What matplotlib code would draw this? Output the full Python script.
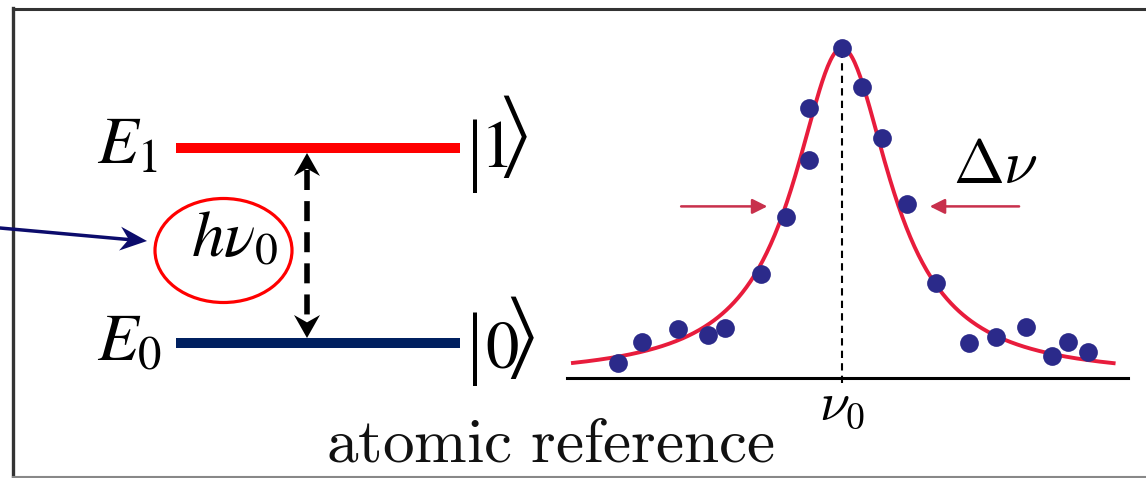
import matplotlib
matplotlib.use('Agg')
import matplotlib.pyplot as plt
import numpy as np
from matplotlib.patches import Ellipse

W, H = 1146, 478

# spectrum: detuning in units of the line width, signal normalised to the peak
detuning = [-1.81, -1.61, -1.32, -1.08, -0.94, -0.65, -0.45, -0.27, -0.27, 0.0,
            0.16, 0.32, 0.52, 0.76, 1.02, 1.24, 1.48, 1.69, 1.82, 1.98]
signal = [0.045, 0.109, 0.148, 0.130, 0.152, 0.315, 0.488, 0.661, 0.818, 1.0,
          0.882, 0.727, 0.527, 0.288, 0.106, 0.124, 0.155, 0.067, 0.109, 0.079]

# lorentzian fit
fit_center = 0.0
fit_fwhm = 0.95
fit_amp = 1.0
fit_range = (-2.17, 2.19)
half_max_level = 0.52

level_labels = [r'$E_1$', r'$E_0$']
ket_digits = ['1', '0']

delim_font = ['STIXSizeOneSym', 'STIXGeneral']


def head(ax, tip, tail, length, width, color):
    # stealth style arrow head in pixel coordinates
    tip = np.array(tip, float)
    d = tip - np.array(tail, float)
    d /= np.hypot(*d)
    n = np.array([-d[1], d[0]])
    back = tip - d * length
    pts = [tip, back + n * width / 2, tip - d * length * 0.68, back - n * width / 2]
    ax.fill(*zip(*pts), color=color, lw=0, zorder=5)


def ket(ax, base, bar_base, digit, xdig, xbra):
    # |n> built from a tall bar, the digit and a tall angle bracket
    ax.text(475, bar_base, '|', family=['Liberation Serif', 'STIXGeneral'], fontsize=58,
            ha='center', va='baseline')
    ax.text(xdig, base, digit, family='STIXGeneral', fontsize=48, ha='center', va='baseline')
    ax.text(xbra, base, '\u27e9', family=delim_font, fontsize=48, ha='center', va='baseline')


fig = plt.figure(figsize=(W / 100, H / 100), dpi=100)
ax = fig.add_axes([0, 0, 1, 1])
ax.set_xlim(0, W)
ax.set_ylim(H, 0)
ax.axis('off')

# frame
ax.plot([13, 13], [8, H], color='#333333', lw=2.4)
ax.plot([13, W], [9, 9], color='#333333', lw=2.2)
ax.plot([13, W], [476.5, 476.5], color='#888888', lw=1.5)

# energy levels
y_up, y_low = 148, 343
ax.plot([176, 460], [y_up, y_up], color='#ff0000', lw=7.2, solid_capstyle='butt')
ax.plot([176, 460], [y_low, y_low], color='#002060', lw=7.2, solid_capstyle='butt')
ax.text(97, 163, level_labels[0], fontsize=48, math_fontfamily='stix', va='baseline')
ax.text(97, 361, level_labels[1], fontsize=48, math_fontfamily='stix', va='baseline')
ket(ax, 167, 176, ket_digits[0], 497, 515)
ket(ax, 368, 369, ket_digits[1], 502, 522)

# transition arrow
xa = 307
ax.plot([xa, xa], [170, 322], color='k', lw=4, dashes=(3.6, 2.0), solid_capstyle='butt')
head(ax, (xa, 153), (xa, 200), 23, 26, 'k')
head(ax, (xa, 338), (xa, 300), 23, 26, 'k')

# photon
ax.add_patch(Ellipse((223.5, 250.5), 137, 104, fill=False, edgecolor='#ff0000', lw=2.3))
ax.text(191, 257, r'$h\nu_0$', fontsize=47, math_fontfamily='stix', va='baseline')
ax.plot([0, 128], [228, 239.5], color='#0c0c6c', lw=2.5)
head(ax, (147, 241), (0, 228), 27, 24, '#0c0c6c')

ax.text(550, 462, r'$\mathrm{atomic\ reference}$', fontsize=45.5, math_fontfamily='cm',
        ha='center', va='baseline', color='#111111')

# spectrum panel
left, right, base, top = 567, 1128, 378, 20
ax2 = fig.add_axes([left / W, 1 - base / H, (right - left) / W, (base - top) / H])
ax2.patch.set_alpha(0)
ax2.set_xlim(-2.218, 2.306)
ax2.set_ylim(0, (base - top) / 330)
for s in ['top', 'left', 'right']:
    ax2.spines[s].set_visible(False)
ax2.spines['bottom'].set_linewidth(2.2)
ax2.set_xticks([])
ax2.set_yticks([])

xf = np.linspace(fit_range[0], fit_range[1], 400)
yf = fit_amp / (1 + 4 * ((xf - fit_center) / fit_fwhm) ** 2)
ax2.plot(xf, yf, color='#e81c3c', lw=2.8, zorder=3)
ax2.plot([fit_center, fit_center], [-0.015, fit_amp], color='k', lw=1.5,
         dashes=(3.5, 2.5), zorder=2, clip_on=False)
ax2.plot(detuning, signal, 'o', color='#2b2a8a', ms=13.5, mec='none', zorder=4, clip_on=False)

arrow_kw = dict(arrowstyle='-|>,head_length=0.9,head_width=0.45', color='#c8304c', lw=1.8)
ax2.annotate('', xy=(-0.58, half_max_level), xytext=(-1.32, half_max_level), arrowprops=arrow_kw)
ax2.annotate('', xy=(0.685, half_max_level), xytext=(1.45, half_max_level), arrowprops=arrow_kw)
ax2.text(1.24, 0.64, r'$\Delta\nu$', fontsize=44, math_fontfamily='cm', ha='center', va='center')
ax2.annotate(r'$\nu_0$', xy=(fit_center, 0), xytext=(0, -19), textcoords='offset points',
             fontsize=39, math_fontfamily='cm', ha='center', va='center', annotation_clip=False)

fig.savefig('out.png', dpi=100)
